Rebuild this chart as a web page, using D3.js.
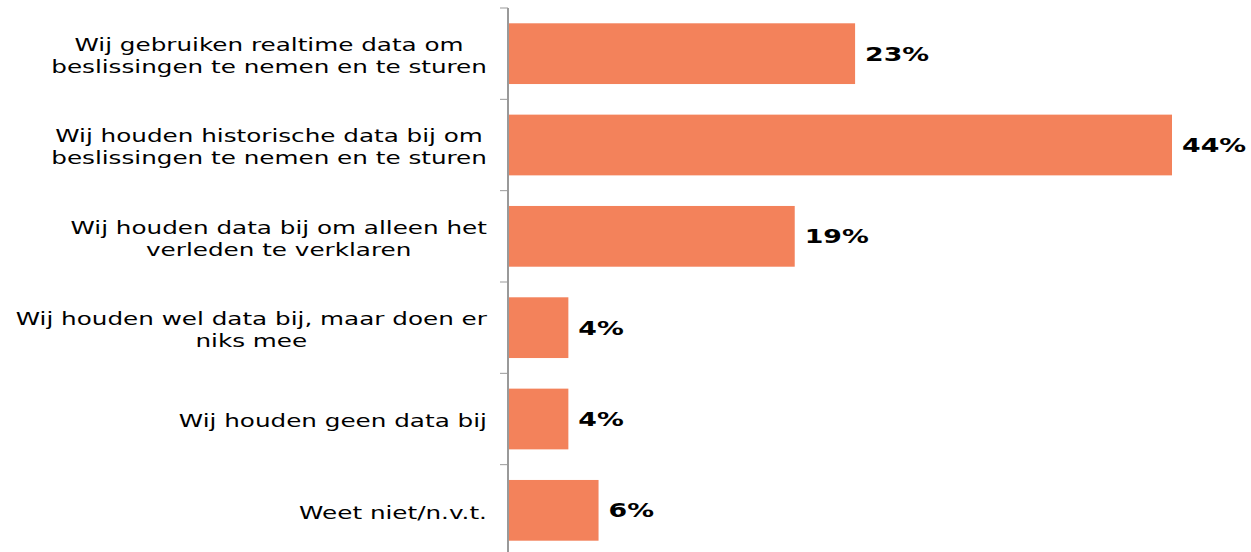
<!DOCTYPE html>
<html>
<head>
<meta charset="utf-8">
<script src="https://cdn.jsdelivr.net/npm/d3@7"></script>
<style>
  body { margin: 0; background: #fff; }
  text { font-family: "DejaVu Sans", Verdana, sans-serif; }
</style>
</head>
<body>
<div id="plot"></div>
<script>
// categories, each a list of label lines
const labels = [
  ["Wij gebruiken realtime data om", "beslissingen te nemen en te sturen"],
  ["Wij houden historische data bij om", "beslissingen te nemen en te sturen"],
  ["Wij houden data bij om alleen het", "verleden te verklaren"],
  ["Wij houden wel data bij, maar doen er", "niks mee"],
  ["Wij houden geen data bij"],
  ["Weet niet/n.v.t."]
];
const values = [23, 44, 19, 4, 4, 6];

const width = 1251, height = 552;
const margin = {top: 8, right: 79, bottom: -4, left: 508};
// the source text is rendered wide, so stretch it horizontally
const stretch = 1.37;

const svg = d3.select("#plot").append("svg")
  .attr("width", width)
  .attr("height", height);

const yScale = d3.scaleBand(d3.range(values.length), [margin.top, height - margin.bottom]);
const xScale = d3.scaleLinear([0, 44], [margin.left, width - margin.right]);
const barH = yScale.bandwidth() * 0.665;

// bars
svg.selectAll("rect.bar")
  .data(values)
  .join("rect")
    .attr("class", "bar")
    .attr("x", xScale(0))
    .attr("y", (d, i) => yScale(i) + (yScale.bandwidth() - barH) / 2)
    .attr("width", d => xScale(d) - xScale(0))
    .attr("height", barH)
    .attr("fill", "#F3825B");

// value labels
svg.selectAll("g.val")
  .data(values)
  .join("g")
    .attr("class", "val")
    .attr("transform", (d, i) => `translate(${xScale(d) + 10},${yScale(i) + yScale.bandwidth() / 2}) scale(1.41,1)`)
  .append("text")
    .attr("dy", "0.36em")
    .attr("font-size", 19)
    .attr("font-weight", "bold")
    .text(d => d + "%");

// axis with boundary ticks
const axis = svg.append("g");
axis.append("line")
  .attr("x1", margin.left).attr("x2", margin.left)
  .attr("y1", margin.top).attr("y2", height)
  .attr("stroke", "#999").attr("stroke-width", 2);
axis.selectAll("line.tick")
  .data(d3.range(values.length))
  .join("line")
    .attr("class", "tick")
    .attr("x1", margin.left - 8).attr("x2", margin.left)
    .attr("y1", i => yScale(i)).attr("y2", i => yScale(i))
    .attr("stroke", "#999").attr("stroke-width", 1);

// category labels: blocks centred, longest line ends at x=487
const lineH = 22;
labels.forEach((lines, i) => {
  const g = svg.append("g");
  const t = g.append("text")
    .attr("font-size", 18)
    .attr("fill", "#000")
    .attr("text-anchor", "middle");
  const cy = yScale(i) + yScale.bandwidth() / 2 + 2;
  const y0 = -(lines.length - 1) * lineH / 2;
  lines.forEach((l, j) => {
    t.append("tspan").attr("x", 0).attr("y", y0 + j * lineH).attr("dy", "0.36em").text(l);
  });
  const w = d3.max(t.selectAll("tspan").nodes(), n => n.getComputedTextLength()) * stretch;
  g.attr("transform", `translate(${487 - w / 2},${cy}) scale(${stretch},1)`);
});
</script>
</body>
</html>
